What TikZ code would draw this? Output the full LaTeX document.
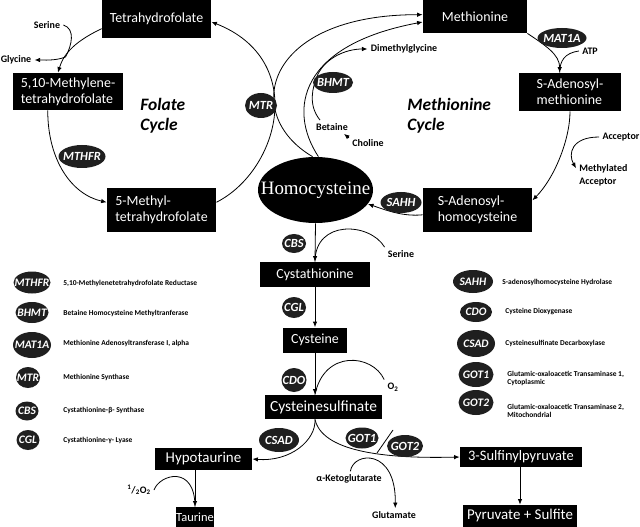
\documentclass[tikz,border=0pt]{standalone}
\usepackage{fontspec}
\setmainfont{Carlito}
\newfontfamily\hcyfont{Liberation Serif}
\usetikzlibrary{arrows.meta}
\usetikzlibrary{shapes.geometric}
\tikzset{metab/.style 2 args = {fill=black, text=white, inner sep=0, align=left,
                                minimum width=#1bp, minimum height=#2bp,
                                font=\fontsize{14}{16}\selectfont}}
\tikzset{enz/.style 2 args = {ellipse, fill=black!88, text=white, inner sep=0,
                              minimum width=#1bp, minimum height=#2bp,
                              font=\bfseries\itshape\fontsize{12.5}{14}\selectfont}}
\tikzset{enzkey/.style 2 args = {enz={#1}{#2}, font=\bfseries\itshape\fontsize{11.5}{13}\selectfont}}
\tikzset{lbl/.style = {inner sep=3bp, align=left, font=\bfseries\fontsize{10}{12.5}\selectfont}}
\tikzset{keytext/.style = {anchor=west, inner sep=0, align=left, font=\bfseries\fontsize{7.5}{8}\selectfont}}
\tikzset{cycletext/.style = {anchor=west, inner sep=0, align=left, font=\bfseries\itshape\fontsize{17.5}{20}\selectfont}}
\tikzset{arr/.style = {-{Latex[length=5.5bp,width=4.5bp]}}}
\newcommand{\clabel}[1]{\makebox[0pt]{#1}}

\begin{document}
\begin{tikzpicture}[x=1bp, y=-1bp, line width=0.8bp]
  \useasboundingbox (0,0) rectangle (640,527);

  % folate cycle
  \node[metab={109}{38}] (thf) at (156.5,19) {Tetrahydrofolate};
  \node[metab={109}{37}] (mlthf) at (68,91.5) {5,10-Methylene-\\tetrahydrofolate};
  \node[metab={109}{44}] (mthf) at (161.5,210) {5-Methyl-\\tetrahydrofolate};
  \node[lbl] (ser1) at (47,25) {Serine};
  \node[lbl] (gly) at (16,60) {Glycine};
  \node[cycletext] (fcyc) at (140,115.5) {Folate\\Cycle};
  \coordinate (sj) at (65.5,57);

  \draw [arr] (thf.190) .. controls +(-25,12) and +(6,-20) .. (mlthf.118);
  \draw (ser1.east) .. controls +(12,4) and +(6.5,-12) .. (sj);
  \draw [arr] (sj) .. controls +(-10,4) and +(8,0) .. (gly.east);
  \draw [arr] (mlthf.223) .. controls +(0,50) and +(-35,-8) .. (mthf.172);
  \draw [arr] (mthf.8) .. controls +(63,-32) and +(97,38) .. (thf.-3);

  % methionine cycle
  \node[ellipse, fill=black, text=white, inner sep=0, minimum width=115bp, minimum height=66bp,
        font=\hcyfont\fontsize{19}{21}\selectfont] (hcy) at (315.5,190) {\clabel{Homocysteine}};
  \node[metab={104}{33}] (met) at (475,16.5) {Methionine};
  \node[metab={102}{38}] (sam) at (570,92) {S-Adenosyl-\\methionine};
  \node[metab={109}{44}] (sah) at (477.5,210) {S-Adenosyl-\\homocysteine};
  \node[lbl] (dmg) at (404,49) {Dimethylglycine};
  \node[lbl] (bet) at (332,127) {Betaine};
  \node[lbl] (chol) at (368,143) {Choline};
  \node[lbl] (atp) at (590,51) {ATP};
  \node[lbl] (acc) at (621,137) {Acceptor};
  \node[lbl, anchor=west] (macc) at (576,175.5) {Methylated\\Acceptor};
  \node[cycletext] (mcyc) at (407,115.5) {Methionine\\Cycle};
  \coordinate (bj) at (318,74);

  \draw [arr] (hcy.95) .. controls +(-72,-42) and +(-158,0) .. (met.178);
  \draw [arr] (hcy.85) .. controls +(-31,-47) and +(-123,23) .. (met.186);
  \draw [arr] (bj) .. controls +(8,-16) and +(-22,0) .. (dmg.west);
  \draw (bet.150) .. controls +(-12,-15) and +(-6,14) .. (bj);
  \draw [arr] (chol.165) -- (bet.-30);
  \draw [arr] (met.south east) .. controls +(18,12) and +(0,-18) .. (sam.118);
  \draw (atp.west) .. controls +(-14,2) and +(0,-12) .. (sam.118);
  \draw [arr] (sam.south) .. controls +(0,28) and +(22,-22) .. (sah.10);
  \draw [arr] (acc.west) .. controls +(-28,0) and +(-8,-14) .. (macc.165);
  \draw [arr] (sah.185) .. controls +(-20,2) and +(18,6) .. (hcy.-15);

  \node[enz={47}{23}] (mthfr) at (82,156.5) {\clabel{MTHFR}};
  \node[enz={32}{25}] (mtr) at (261,105.5) {\clabel{MTR}};
  \node[enz={40}{21}] (bhmt) at (333,82.5) {\clabel{BHMT}};
  \node[enz={49}{20}] (mat) at (562,38) {\clabel{MAT1A}};
  \node[enz={41}{21}] (sahh) at (401,202.5) {\clabel{SAHH}};

  % transsulfuration
  \node[metab={110}{25}] (cysta) at (315,274.5) {Cystathionine};
  \node[metab={64}{25}] (cys) at (315,340) {Cysteine};
  \node[metab={117}{24}, font=\fontsize{15.5}{17}\selectfont] (csa) at (323.5,407) {Cysteinesulfinate};
  \node[metab={97}{22}, font=\fontsize{15}{17}\selectfont] (hypo) at (203.5,459) {Hypotaurine};
  \node[metab={38}{20}, font=\fontsize{12.5}{14}\selectfont] (tau) at (195,517) {Taurine};
  \node[metab={122}{20}, font=\fontsize{14.5}{16}\selectfont] (spy) at (521,457) {3-Sulfinylpyruvate};
  \node[metab={114}{22}, font=\fontsize{15}{17}\selectfont] (pyr) at (520,516) {Pyruvate + Sulfite};
  \node[lbl] (ser2) at (401,254) {Serine};
  \node[lbl] (o2) at (393,387) {O\textsubscript{2}};
  \node[lbl] (half) at (139,490) {\textsuperscript{1}/\textsubscript{2}O\textsubscript{2}};
  \node[lbl] (akg) at (349,479) {α-Ketoglutarate};
  \node[lbl] (glu) at (394,515) {Glutamate};
  \coordinate (csab) at (cys.south |- csa.south);

  \draw [arr] (hcy.south) -- (cysta.north);
  \draw (ser2.north west) .. controls +(-15,-25) and +(0,-42) .. (cysta.north);
  \draw [arr] (cysta.south) -- (cys.north);
  \draw [arr] (cys.south) -- (cys.south |- csa.north);
  \draw (o2.north west) .. controls +(-12,-26) and +(9,-45) .. (cys.south |- csa.north);
  \draw [arr] (csab) .. controls +(1,21) and +(38,3) .. (hypo.east);
  \draw [arr] (csab) .. controls +(7,31) and +(-80,2) .. (spy.west);
  \draw [arr] (akg.80) .. controls +(3,-20) and +(1,-60) .. (glu.80);
  \draw [arr] (hypo.south -| tau.north) -- (tau.north);
  \draw (half.east) .. controls +(6,-16) and +(0,-42) .. (tau.north);
  \draw [arr] (spy.south -| pyr.north) -- (pyr.north);

  \node[enz={24}{19}] (cbs) at (294,243.5) {\clabel{CBS}};
  \node[enz={24}{21}] (cgl) at (294,307.5) {\clabel{CGL}};
  \node[enz={25}{24}] (cdo) at (294,380) {\clabel{CDO}};
  \node[enz={40}{24}] (csad) at (279,440) {\clabel{CSAD}};
  \node[enz={33}{21}] (got1) at (362,438) {\clabel{GOT1}};
  \node[enz={36}{22}] (got2) at (405,446) {\clabel{GOT2}};
  \draw (393,430) -- (377,453);

  % legend
  \node[enzkey={37}{22}] (kmthfr) at (32,282.5) {\clabel{MTHFR}};
  \node[enzkey={33}{21}] (kbhmt) at (32,312.5) {\clabel{BHMT}};
  \node[enzkey={38}{26}] (kmat) at (32,345) {\clabel{MAT1A}};
  \node[enzkey={24}{21}] (kmtr) at (28,377.5) {\clabel{MTR}};
  \node[enzkey={23}{19}] (kcbs) at (27,411) {\clabel{CBS}};
  \node[enzkey={23}{20}] (kcgl) at (28,440) {\clabel{CGL}};
  \node[keytext] (tmthfr) at (63,283) {5,10-Methylenetetrahydrofolate Reductase};
  \node[keytext] (tbhmt) at (63,313) {Betaine Homocysteine Methyltranferase};
  \node[keytext] (tmat) at (63,343) {Methionine Adenosyltransferase I, alpha};
  \node[keytext] (tmtr) at (63,377) {Methionine Synthase};
  \node[keytext] (tcbs) at (63,410) {Cystathionine-β- Synthase};
  \node[keytext] (tcgl) at (63,440) {Cystathionine-γ- Lyase};

  \node[enzkey={40}{23}] (ksahh) at (473,281.5) {\clabel{SAHH}};
  \node[enzkey={32}{20}] (kcdo) at (476,312) {\clabel{CDO}};
  \node[enzkey={38}{27}] (kcsad) at (476,343.5) {\clabel{CSAD}};
  \node[enzkey={35}{25}] (kgot1) at (476,374.5) {\clabel{GOT1}};
  \node[enzkey={35}{25}] (kgot2) at (476,402.5) {\clabel{GOT2}};
  \node[keytext] (tsahh) at (502,282) {S-adenosylhomocysteine Hydrolase};
  \node[keytext] (tcdo) at (505,312) {Cysteine Dioxygenase};
  \node[keytext] (tcsad) at (505,343) {Cysteinesulfinate Decarboxylase};
  \node[keytext] (tgot1) at (507,378) {Glutamic-oxaloacetic Transaminase 1,\\Cytoplasmic};
  \node[keytext] (tgot2) at (507,410.5) {Glutamic-oxaloacetic Transaminase 2,\\Mitochondrial};
\end{tikzpicture}
\end{document}
